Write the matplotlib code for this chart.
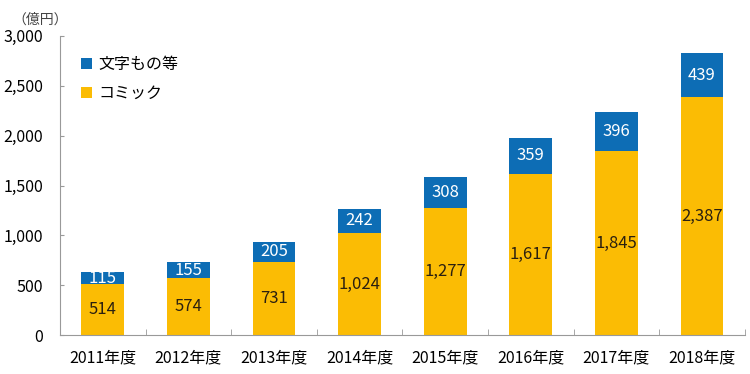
import numpy as np
import matplotlib.pyplot as plt

plt.rcParams['font.family'] = ['Noto Sans CJK JP', 'DejaVu Sans']

# データ
years = ['2011年度', '2012年度', '2013年度', '2014年度', '2015年度', '2016年度', '2017年度', '2018年度']
comic = [514, 574, 731, 1024, 1277, 1617, 1845, 2387]
text_etc = [115, 155, 205, 242, 308, 359, 396, 439]

c_comic = '#fbbc04'
c_text = '#0d6db5'

fig = plt.figure(figsize=(7.5, 3.74), dpi=100)
ax = fig.add_axes([0.08, 0.104, 0.913, 0.8])

x = np.arange(len(years))
w = 0.5
b1 = ax.bar(x, comic, w, color=c_comic, label='コミック')
b2 = ax.bar(x, text_etc, w, bottom=comic, color=c_text, label='文字もの等')

for i in range(len(years)):
    ax.text(x[i], comic[i] / 2, f'{comic[i]:,}', ha='center', va='center',
            fontsize=12, color='#2b2010')
    ax.text(x[i], comic[i] + text_etc[i] / 2, f'{text_etc[i]:,}', ha='center', va='center',
            fontsize=12, color='white')

ax.set_xlim(-0.5, len(years) - 0.5)
ax.set_ylim(0, 3000)
ax.set_yticks(np.arange(0, 3001, 500))
ax.set_yticklabels([f'{v:,}' for v in range(0, 3001, 500)], fontsize=11.5)
ax.set_xticks(x)
ax.set_xticklabels(years, fontsize=11.5)
ax.set_xticks(np.arange(-0.5, len(years), 1), minor=True)
ax.tick_params(axis='x', which='major', length=0, pad=10)
ax.tick_params(axis='x', which='minor', length=4, direction='in', color='#999999')
ax.tick_params(axis='y', length=3, direction='in', color='#999999', pad=12)

for s in ['top', 'right']:
    ax.spines[s].set_visible(False)
ax.spines['left'].set_color('#999999')
ax.spines['bottom'].set_color('#999999')

ax.text(-0.029, 1.055, '（億円）', transform=ax.transAxes, fontsize=10, color='#444444',
        ha='center', va='center')

h, l = ax.get_legend_handles_labels()
ax.legend(h[::-1], l[::-1], loc='upper left', bbox_to_anchor=(0.01, 0.98), frameon=False,
          fontsize=11.5, handlelength=0.7, handleheight=0.7, handletextpad=0.4, labelspacing=0.75)

fig.savefig('out.png', dpi=100)
